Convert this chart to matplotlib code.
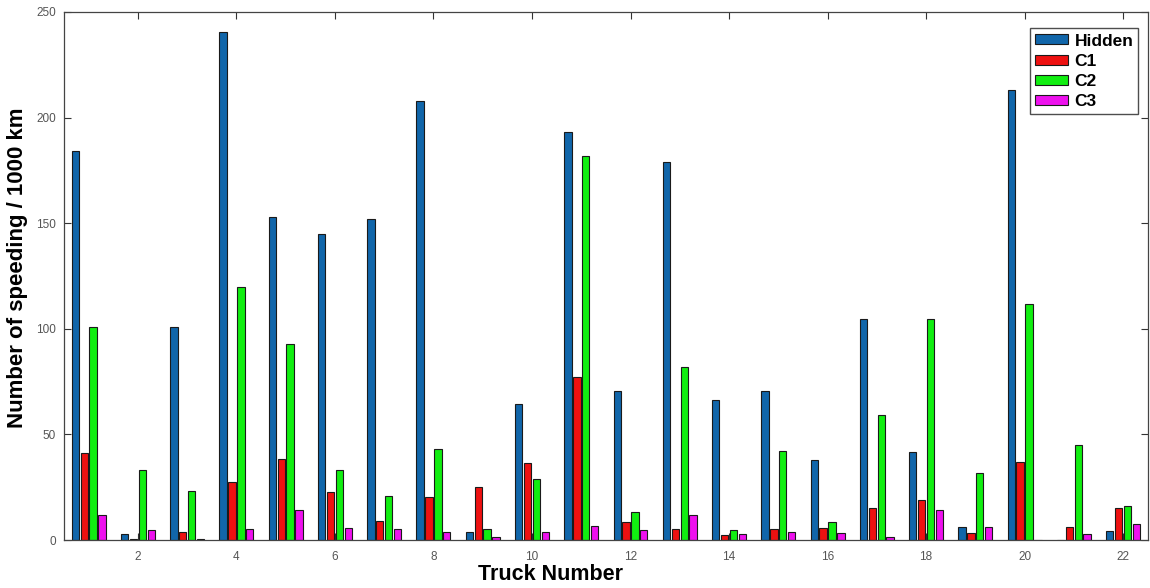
import matplotlib
matplotlib.use("Agg")
import matplotlib.pyplot as plt
import numpy as np

trucks = list(range(1, 23))
hidden = [184, 2.7, 101, 240.5, 153, 145, 152, 208, 3.6, 64.4, 193, 70.5, 179, 66.4, 70.5, 37.9, 104.6, 41.7, 6.3, 213, 0, 4.3]
c1 = [41, 0.4, 3.6, 27.5, 38.5, 22.7, 8.8, 20.2, 25, 36.3, 77.2, 8.4, 5.2, 2.2, 5.2, 5.7, 15.2, 18.8, 3.2, 36.8, 6.3, 15.2]
c2 = [100.8, 33.3, 23.3, 119.6, 92.6, 33.3, 20.8, 43, 5.2, 28.7, 182, 13.1, 82, 4.6, 42.1, 8.4, 59.2, 104.6, 31.6, 111.7, 45.1, 16.1]
c3 = [12, 4.6, 0.5, 5, 14, 5.7, 5, 3.6, 1.6, 3.6, 6.8, 4.6, 12, 2.7, 3.6, 3.2, 1.6, 14, 6.3, 0, 2.7, 7.4]
series_names = ["Hidden", "C1", "C2", "C3"]
xticks = list(range(2, 23, 2))
yticks = [0, 50, 100, 150, 200, 250]

colors = ["#1166aa", "#ee1111", "#11ee11", "#ee11ee"]

plt.rcParams['font.family'] = ['Liberation Sans', 'DejaVu Sans']
fig = plt.figure(figsize=(11.5, 5.88), dpi=100)
ax = fig.add_axes([0.0557, 0.0816, 0.9423, 0.898])

x = np.array(trucks, dtype=float)
step = 0.18
width = 0.15
for i, (name, vals) in enumerate(zip(series_names, [hidden, c1, c2, c3])):
    ax.bar(x + (i - 1.5) * step, vals, width=width, color=colors[i],
           edgecolor="#1a1a1a", linewidth=0.8, label=name, zorder=2)

ax.set_xlim(0.5, 22.5)
ax.set_ylim(0, 250)
ax.set_xticks(xticks)
ax.set_yticks(yticks)
ax.tick_params(axis='both', direction='in', length=5, width=0.8, colors="#333333",
               labelcolor="#555555", labelsize=8.5, top=True, right=True)
ax.tick_params(axis='x', pad=8)
ax.tick_params(axis='y', pad=6)
for s in ax.spines.values():
    s.set_color("#444444")
    s.set_linewidth(0.9)

fig.text(550 / 1150, 1 - 575 / 588, "Truck Number", fontsize=15.5, fontweight='bold',
         ha='center', va='center')
fig.text(18 / 1150, 1 - 268 / 588, "Number of speeding / 1000 km", fontsize=16,
         fontweight='bold', rotation=90, ha='center', va='center')

leg = ax.legend(loc='upper right', bbox_to_anchor=(0.9915, 0.969),
                prop={'weight': 'bold', 'size': 12.5}, frameon=True, fancybox=False,
                handlelength=1.9, handleheight=0.5, handletextpad=0.35,
                borderpad=0.3, labelspacing=0.3, borderaxespad=0.0)
leg.get_frame().set_edgecolor("#222222")
leg.get_frame().set_linewidth(1.0)

fig.savefig("out.png", dpi=100)
